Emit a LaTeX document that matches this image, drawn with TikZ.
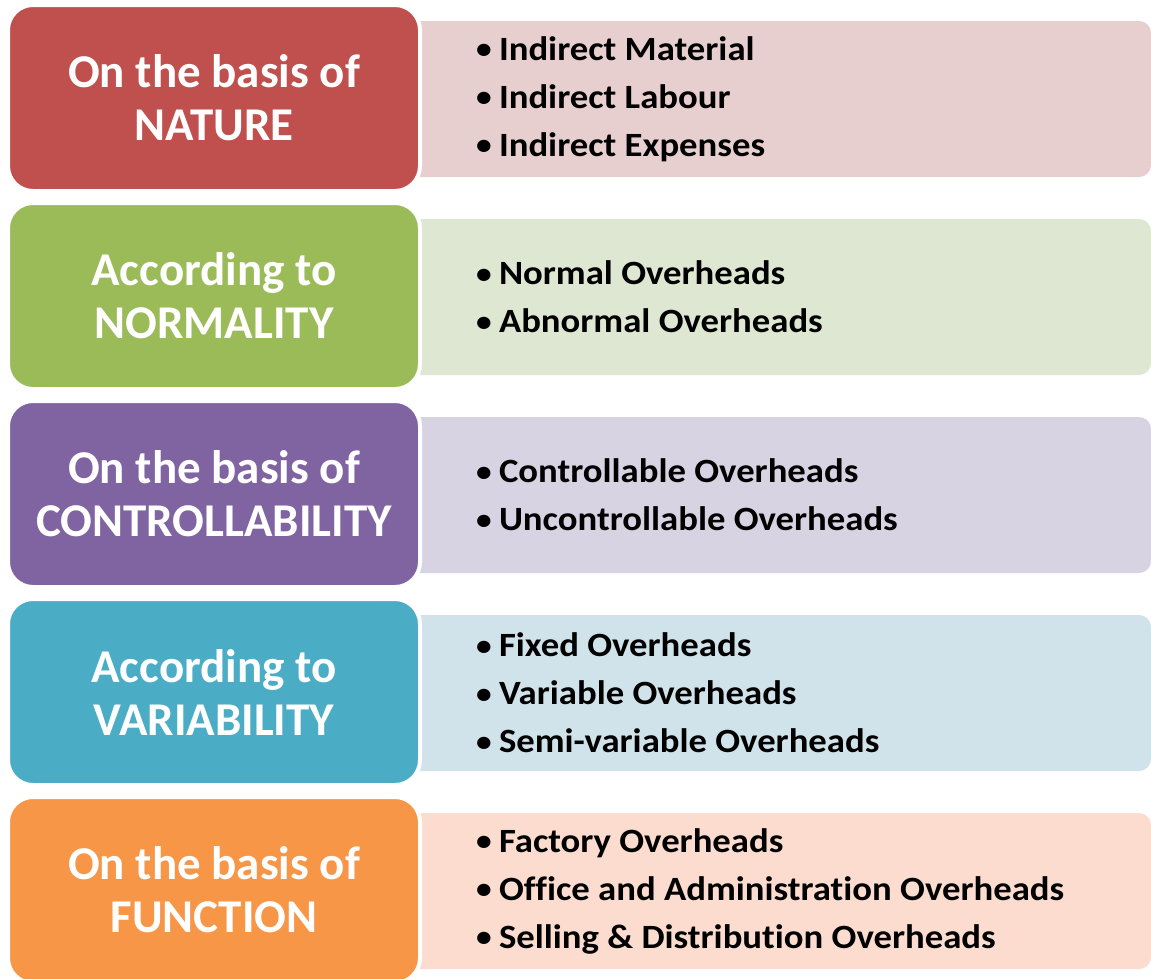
\documentclass[tikz,border=0pt]{standalone}
\usepackage{fontspec}
\setmainfont{Carlito}[Ligatures=NoCommon]
\newfontfamily\listfont{Carlito}[Ligatures=NoCommon,FakeStretch=1.08]
\usepackage[usenames,dvipsnames]{xcolor}
\usepackage{tikz}

\definecolor{natdark}{HTML}{C0504D}
\definecolor{natlight}{HTML}{E7CFCF}
\definecolor{normdark}{HTML}{9BBB59}
\definecolor{normlight}{HTML}{DEE7D1}
\definecolor{ctrldark}{HTML}{8064A2}
\definecolor{ctrllight}{HTML}{D8D3E3}
\definecolor{vardark}{HTML}{4BACC6}
\definecolor{varlight}{HTML}{D0E3EA}
\definecolor{fundark}{HTML}{F79646}
\definecolor{funlight}{HTML}{FCDCCE}

\newcommand{\itm}{\makebox[23pt][l]{\raisebox{1.5pt}{\fontsize{29}{29}\selectfont•}}}

\tikzset{
  basis/.style={draw=white, line width=4pt, rounded corners=25pt,
    minimum width=412pt, minimum height=186pt, inner sep=0pt,
    text=white, align=center, font=\fontsize{47}{53}\selectfont\bfseries},
  items/.style={rounded corners=12pt, minimum width=746pt, minimum height=156pt,
    inner xsep=71pt, inner ysep=0pt, text width=604pt, align=flush left,
    font=\listfont\fontsize{34}{48}\selectfont\bfseries}
}

\begin{document}
\begin{tikzpicture}[x=1pt,y=-1pt]
  \useasboundingbox (0,0) rectangle (1151,978);

  % light boxes with the lists
  \node[items, fill=natlight] (natlist) at (778,99)
    {\itm Indirect Material\\\itm Indirect Labour\\\itm Indirect Expenses};
  \node[items, fill=normlight] (normlist) at (778,297)
    {\itm Normal Overheads\\\itm Abnormal Overheads};
  \node[items, fill=ctrllight] (ctrllist) at (778,495)
    {\itm Controllable Overheads\\\itm Uncontrollable Overheads};
  \node[items, fill=varlight] (varlist) at (778,693)
    {\itm Fixed Overheads\\\itm Variable Overheads\\\itm Semi-variable Overheads};
  \node[items, fill=funlight] (funlist) at (778,891)
    {\itm Factory Overheads\\\itm Office and Administration Overheads\\\itm Selling \& Distribution Overheads};

  % coloured heading boxes
  \node[basis, fill=natdark] (nature) at (214,98) {On the basis of\\NATURE};
  \node[basis, fill=normdark] (normality) at (214,296) {According to\\NORMALITY};
  \node[basis, fill=ctrldark] (control) at (214,494) {On the basis of\\CONTROLLABILITY};
  \node[basis, fill=vardark] (variability) at (214,692) {According to\\VARIABILITY};
  \node[basis, fill=fundark] (function) at (214,890) {On the basis of\\FUNCTION};
\end{tikzpicture}
\end{document}
